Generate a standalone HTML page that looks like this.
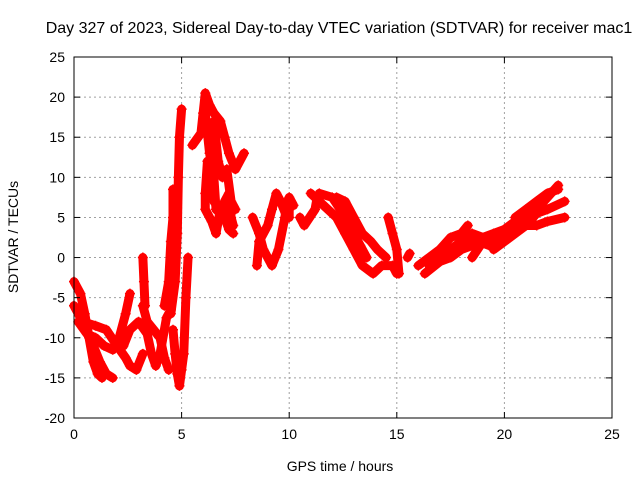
<!DOCTYPE html>
<html><head><meta charset="utf-8"><style>
body{margin:0;background:#fff;}
svg text{font-family:"Liberation Sans",sans-serif;font-size:14px;fill:#000;}
</style></head><body>
<svg id="chart" width="640" height="480">
<text x="339" y="33" text-anchor="middle" style="font-size:16px">Day 327 of 2023, Sidereal Day-to-day VTEC variation (SDTVAR) for receiver mac1</text>
<g id="grid"></g><g id="series"></g><g id="axes"></g>
<text x="340" y="471" text-anchor="middle">GPS time / hours</text>
<text transform="translate(18,237) rotate(-90)" text-anchor="middle">SDTVAR / TECUs</text>
</svg>
<script>
const xTicks=[0,5,10,15,20,25];
const yTicks=[-20,-15,-10,-5,0,5,10,15,20,25];
const t1=[[0,-3],[0.3,-4.5],[0.5,-7],[0.7,-10],[0.9,-13],[1.1,-14.5],[1.3,-15]];
const t2=[[0,-6],[0.3,-7.5],[0.6,-9],[0.9,-11],[1.2,-13],[1.5,-14.5],[1.8,-15]];
const t3=[[0.2,-8],[0.6,-9.5],[1,-10],[1.4,-11],[1.8,-11.5],[2.1,-10],[2.4,-7],[2.6,-4.5]];
const t4=[[0.4,-8],[1,-8.5],[1.5,-9],[2,-11],[2.4,-12.5],[2.6,-13.5],[2.9,-14],[3.2,-12]];
const t5=[[2.3,-11],[2.6,-9],[3,-8],[3.4,-9.5],[3.6,-12],[3.8,-13.5],[4.0,-12],[4.3,-7.5],[4.5,-6.5]];
const t6=[[3.2,-6],[3.4,-8],[3.7,-9],[4,-10],[4.2,-12.5],[4.4,-14]];
const t7=[[3.2,0],[3.25,-3],[3.3,-6]];
const t8=[[4.2,-6],[4.4,-3],[4.5,2],[4.6,5],[4.6,8.5]];
const t9=[[4.5,-7],[4.7,-3],[4.8,3],[4.85,10],[4.9,15],[5.0,18.5]];
const t10=[[4.6,-9],[4.7,-12],[4.8,-14.5],[4.9,-16],[5.0,-14],[5.1,-12],[5.2,-5],[5.3,0]];
const t11=[[5.5,14],[5.9,15.5],[6.0,18],[6.1,20.5],[6.3,19],[6.5,18],[6.8,17],[7.0,15],[7.2,13],[7.5,11],[7.9,13]];
const t12=[[6.1,18],[6.3,13],[6.5,10],[6.6,6],[6.8,5.5],[7,7],[7.2,8],[7.3,5],[7.4,4]];
const t13=[[6.2,12],[6.1,8],[6.1,6],[6.4,4.5],[6.6,3],[6.8,6]];
const t14=[[6.3,12],[6.5,7],[6.8,6],[7,5],[7.2,3.5],[7.4,3]];
const t15=[[6.5,17],[6.7,12],[6.9,10],[7.1,11],[7.3,7],[7.5,6]];
const t16=[[8.3,5],[8.6,3],[8.8,1],[9.2,-1],[9.5,1],[9.8,5],[9.9,7]];
const t17=[[8.5,-1],[8.6,2],[9,4],[9.2,6],[9.4,8],[9.6,7],[9.9,5]];
const t18=[[11,8],[11.4,7],[11.8,6],[12.2,5],[12.6,3],[13,1],[13.4,-1],[13.9,-2],[14.3,-1],[14.8,-1],[15,-2]];
const t19=[[11.4,8],[12,7.5],[12.5,5.5],[12.9,3.5],[13.3,1.5],[13.6,0]];
const t20=[[14.6,5],[14.8,3],[15,1],[15.1,-2]];
const t21=[[16,-1],[16.5,0],[17,1],[17.5,2.5],[18,3],[18.3,4]];
const t22=[[16.3,-2],[17,-0.5],[17.5,0],[18,1],[18.5,1.5]];
const t23=[[18.5,0],[19,2],[19.5,2],[20,3],[20.5,4],[21,5],[21.5,6],[22,7.5],[22.5,9]];
const t24=[[19.5,1],[20,2],[20.5,3],[21,4],[21.5,4],[22,4.5],[22.8,5]];
const t25=[[21,4],[21.5,5.5],[22,6],[22.8,7]];
const t26=[[10,5],[10,7.5],[10.2,6.5]];
const t27=[[10.5,5],[10.7,4],[11.2,6],[11.3,7.5]];
const t28=[[12.2,7.5],[12.6,7],[13,5],[13.4,3],[13.8,2],[14.1,1],[14.5,0]];
const t29=[[16.5,-1],[17,0],[17.5,1],[18,2],[18.5,3],[19,2.5],[19.5,3],[20,3.5],[20.5,4.5],[21,5.5]];
const t30=[[20.5,5],[21,6],[21.5,7],[22,8],[22.5,8.5]];
const t31=[[18.3,2],[18.8,2],[19.3,1.5],[19.8,2]];
const t32=[[15.5,0],[15.6,0.5]];
const tracks=[t1,t2,t3,t4,t5,t6,t7,t8,t9,t10,t11,t12,t13,t14,t15,t16,t17,t18,t19,t20,t21,t22,t23,t24,t25,t26,t27,t28,t29,t30,t31,t32];
const X0=74,X1=612,Y0=418,Y1=57;
const sx=v=>X0+(v-0)/25*(X1-X0);
const sy=v=>Y0-(v+20)/45*(Y0-Y1);
const NS="http://www.w3.org/2000/svg";
function mk(tag,attrs,parent){const e=document.createElementNS(NS,tag);for(const k in attrs)e.setAttribute(k,attrs[k]);parent.appendChild(e);return e;}
const grid=document.getElementById('grid'),axes=document.getElementById('axes'),ser=document.getElementById('series');
mk('rect',{x:X0,y:Y1,width:X1-X0,height:Y0-Y1,fill:'none',stroke:'#000','stroke-width':1},axes);
xTicks.forEach(t=>{const x=sx(t);
 if(t>0&&t<25){const g=mk('line',{x1:x,x2:x,y1:Y1,y2:Y0,stroke:'#a0a0a0','stroke-dasharray':'2,3'},grid);}
 mk('line',{x1:x,x2:x,y1:Y0,y2:Y0-6,stroke:'#000'},axes);mk('line',{x1:x,x2:x,y1:Y1,y2:Y1+6,stroke:'#000'},axes);
 const tx=mk('text',{x:x,y:Y0+21,'text-anchor':'middle'},axes);tx.textContent=t;
 });
yTicks.forEach(t=>{const y=sy(t);
 if(t>-20&&t<25){const g=mk('line',{x1:X0,x2:X1,y1:y,y2:y,stroke:'#a0a0a0','stroke-dasharray':'2,3'},grid);}
 mk('line',{x1:X0,x2:X0+6,y1:y,y2:y,stroke:'#000'},axes);mk('line',{x1:X1,x2:X1-6,y1:y,y2:y,stroke:'#000'},axes);
 const tx=mk('text',{x:X0-9,y:y+5,'text-anchor':'end'},axes);tx.textContent=t;
 });
tracks.forEach(tr=>{
 const pl=mk('polyline',{points:tr.map(p=>sx(p[0])+','+sy(p[1])).join(' '),fill:'none',stroke:'#ff0000','stroke-width':9,'stroke-linejoin':'round','stroke-linecap':'round'},ser);
 
 
 tr.forEach(p=>{const x=sx(p[0]),y=sy(p[1]);
  const m=mk('path',{d:`M${x-5},${y}H${x+5}M${x},${y-5}V${y+5}`,stroke:'#ff0000','stroke-width':1.5},ser);
  
  });
});
</script>
</body></html>
